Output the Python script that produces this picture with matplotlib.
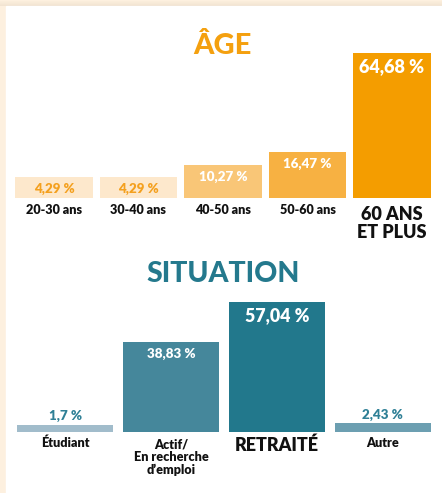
import matplotlib
matplotlib.use("Agg")
import matplotlib.pyplot as plt
from matplotlib.patches import Rectangle

plt.rcParams['font.family'] = ['Lato', 'DejaVu Sans']

# Data
age_labels = ["20-30 ans", "30-40 ans", "40-50 ans", "50-60 ans", "60 ANS\nET PLUS"]
age_values = [4.29, 4.29, 10.27, 16.47, 64.68]
age_colors = ["#fde8cc", "#fde8cc", "#f9c677", "#f7b142", "#f49d00"]

sit_labels = ["Étudiant", "Actif/\nEn recherche\nd’emploi", "RETRAITÉ", "Autre"]
sit_values = [1.7, 38.83, 57.04, 2.43]
sit_colors = ["#a1bccb", "#45879b", "#22788c", "#6c9fb1"]

W, H = 442, 493
CREAM = "#fdf0df"


def box(l, t, r, b):
    # pixel box -> figure fraction
    return [l / W, 1 - b / H, (r - l) / W, (b - t) / H]


def fmt(v):
    s = f"{v:.2f}".rstrip("0").rstrip(".") if v != round(v, 1) else f"{v:.1f}"
    return s.replace(".", ",") + " %"


PX = 0.72  # points per pixel at 100 dpi

fig = plt.figure(figsize=(W / 100, H / 100), dpi=100, facecolor=CREAM)

# white panel with soft top shadow
bg = fig.add_axes([0, 0, 1, 1], zorder=-1)
bg.set_xlim(0, W)
bg.set_ylim(H, 0)
bg.axis("off")
bg.add_patch(Rectangle((6, 6), W, H, color="white"))
for i, a in enumerate([0.05, 0.08, 0.12, 0.16, 0.2]):
    bg.add_patch(Rectangle((0, 1 + i), W, 1, color="#c9b79f", alpha=a, lw=0))

# ---- ÂGE ----
AGE_FLOOR = 6  # bars start a bit below zero so small values stay readable
ax1 = fig.add_axes(box(11.75, 53, 434.25, 198))
x1 = range(len(age_values))
ax1.bar(x1, [v + AGE_FLOOR for v in age_values], width=0.923, color=age_colors)
ax1.set_xlim(-0.5, len(age_values) - 0.5)
ax1.set_ylim(0, max(age_values) + AGE_FLOOR)
ax1.axis("off")

for i, v in enumerate(age_values):
    big = v == max(age_values)
    col = "#f4a01e" if v < 5 else "white"
    ax1.annotate(fmt(v), (i, v + AGE_FLOOR), xytext=(0, -(14 if big else 12) * PX),
                 textcoords="offset points", ha="center", va="center",
                 color=col, fontsize=13 if big else 9.6, fontweight="heavy",
                 annotation_clip=False)
    lab = age_labels[i]
    ax1.annotate(lab, (i, 0), xytext=(0, -(25.5 if big else 12.5) * PX),
                 textcoords="offset points", ha="center", va="center",
                 color="#111111", fontsize=13 if big else 9.1,
                 fontweight="heavy", linespacing=1.0,
                 annotation_clip=False)

fig.text(222 / W, 1 - 45.5 / H, "ÂGE", ha="center", va="center",
         color="#f4a00f", fontsize=21, fontweight="black")

# ---- SITUATION ----
SIT_FLOOR = 1.5
ax2 = fig.add_axes(box(12.25, 302, 435.75, 432))
x2 = range(len(sit_values))
ax2.bar(x2, [v + SIT_FLOOR for v in sit_values], width=0.91, color=sit_colors)
ax2.set_xlim(-0.5, len(sit_values) - 0.5)
ax2.set_ylim(0, max(sit_values) + SIT_FLOOR)
ax2.axis("off")

for i, v in enumerate(sit_values):
    big = v == max(sit_values)
    if v > 10:
        ax2.annotate(fmt(v), (i, v + SIT_FLOOR), xytext=(0, -(14 if big else 11) * PX),
                     textcoords="offset points", ha="center", va="center",
                     color="white", fontsize=12.8 if big else 9.6, fontweight="heavy",
                     annotation_clip=False)
    else:
        ax2.annotate(fmt(v), (i, v + SIT_FLOOR), xytext=(0, 8.5 * PX),
                     textcoords="offset points", ha="center", va="center",
                     color="#2f8096", fontsize=9.6, fontweight="heavy",
                     annotation_clip=False)
    lab = sit_labels[i]
    nl = lab.count("\n")
    off = 13 if big else (11 + 14 * nl / 2 if nl else 11)
    ax2.annotate(lab, (i, 0), xytext=(0, -off * PX),
                 textcoords="offset points", ha="center", va="center",
                 color="#111111", fontsize=13 if big else 9.1,
                 fontweight="heavy", linespacing=1.05,
                 annotation_clip=False)

fig.text(223 / W, 1 - 274 / H, "SITUATION", ha="center", va="center",
         color="#24798d", fontsize=20.5, fontweight="black")

fig.savefig("out.png", dpi=100, facecolor=CREAM)
